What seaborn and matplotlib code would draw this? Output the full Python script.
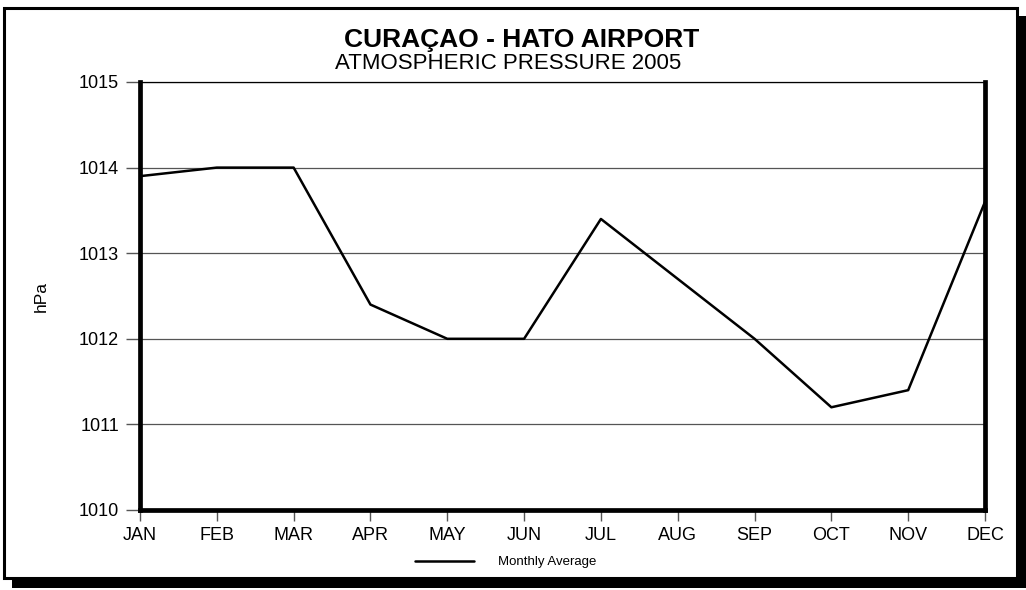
"""
Curaçao - Hato Airport, atmospheric pressure 2005 (monthly average line chart)
"""
import matplotlib
matplotlib.use("Agg")
import matplotlib.pyplot as plt
from matplotlib.patches import Rectangle
import pandas as pd
import seaborn as sns

months = ["JAN", "FEB", "MAR", "APR", "MAY", "JUN",
          "JUL", "AUG", "SEP", "OCT", "NOV", "DEC"]
pressure = [1013.9, 1014.0, 1014.0, 1012.4, 1012.0, 1012.0,
            1013.4, 1012.7, 1012.0, 1011.2, 1011.4, 1013.6]
y_ticks = [1010, 1011, 1012, 1013, 1014, 1015]

sns.set_theme(style="white")
plt.rcParams["font.family"] = ["Liberation Sans", "DejaVu Sans"]
plt.rcParams["text.color"] = "black"
plt.rcParams["axes.labelcolor"] = "black"

df = pd.DataFrame({"month": months, "hPa": pressure})

fig = plt.figure(figsize=(10.26, 5.9), dpi=100)

# frame with drop shadow (behind the axes)
fig.patches.append(Rectangle((12 / 1026, 2 / 590), 1014 / 1026, 572 / 590,
                             transform=fig.transFigure, facecolor="black",
                             edgecolor="none", zorder=-2))
fig.patches.append(Rectangle((4 / 1026, 12 / 590), 1013 / 1026, 570 / 590,
                             transform=fig.transFigure, facecolor="white",
                             edgecolor="black", linewidth=2.2, zorder=-1))

ax = fig.add_axes([140 / 1026, 80 / 590, 845 / 1026, 428 / 590])
ax.set_facecolor("none")

sns.lineplot(data=df, x="month", y="hPa", sort=False, color="black",
             linewidth=1.8, ax=ax, label="Monthly Average", legend=False)

ax.set_xlim(0, len(months) - 1)
ax.set_ylim(1010, 1015)
ax.set_yticks(y_ticks)
ax.set_yticklabels([str(v) for v in y_ticks])
ax.grid(axis="y", color="#555555", linewidth=0.9)
ax.grid(axis="x", visible=False)

for side in ["left", "right", "bottom"]:
    ax.spines[side].set_linewidth(3.4)
    ax.spines[side].set_color("black")
    ax.spines[side].set_zorder(5)
ax.spines["top"].set_linewidth(0.9)
ax.spines["top"].set_color("black")

ax.tick_params(axis="both", which="major", direction="out",
               width=1, color="#555555", labelsize=13, labelcolor="black")
ax.tick_params(axis="y", left=True, right=False, length=10, pad=5)
ax.tick_params(axis="x", bottom=True, length=8, pad=4)

ax.set_xlabel("")
ax.set_ylabel("hPa", fontsize=12.5, labelpad=22)

fig.text(0.508, 0.932, "CURAÇAO - HATO AIRPORT", ha="center", va="center",
         fontsize=19, fontweight="bold")
fig.text(0.495, 0.893, "ATMOSPHERIC PRESSURE 2005", ha="center",
         va="center", fontsize=16)

handles, labels = ax.get_legend_handles_labels()
fig.legend(handles, labels, loc="center", bbox_to_anchor=(0.493, 0.047),
           frameon=False, fontsize=9.5, handlelength=4.5, handletextpad=1.8)

fig.savefig("out.png", dpi=100)
plt.close(fig)
